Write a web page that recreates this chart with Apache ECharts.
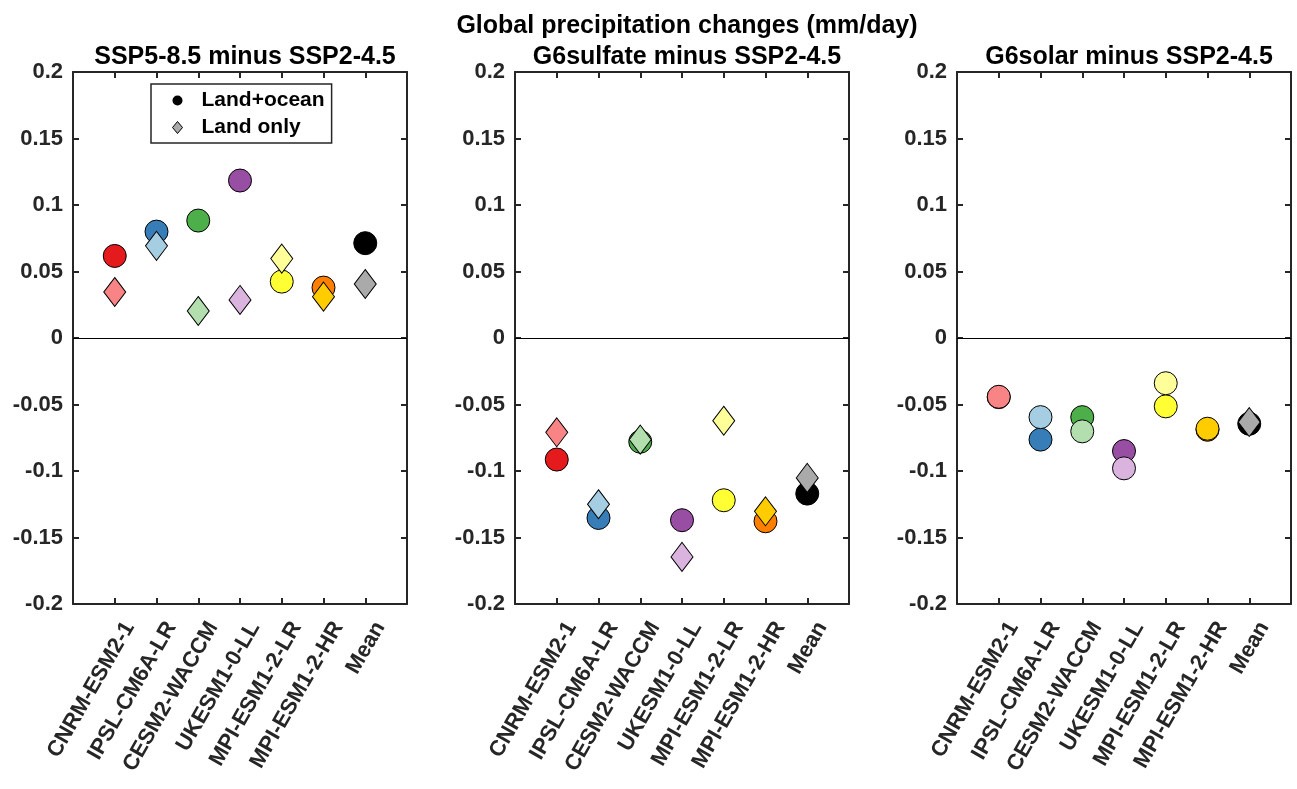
<!DOCTYPE html>
<html>
<head>
<meta charset="utf-8">
<script src="https://cdn.jsdelivr.net/npm/echarts@6/dist/echarts.min.js"></script>
<style>html,body{margin:0;padding:0;background:#fff}#c{width:1297px;height:789px}</style>
</head>
<body>
<div id="c"></div>
<script>
const categories = ['CNRM-ESM2-1','IPSL-CM6A-LR','CESM2-WACCM','UKESM1-0-LL','MPI-ESM1-2-LR','MPI-ESM1-2-HR','Mean'];
const panelTitles = ['SSP5-8.5 minus SSP2-4.5','G6sulfate minus SSP2-4.5','G6solar minus SSP2-4.5'];
const yTicks = [-0.2,-0.15,-0.1,-0.05,0,0.05,0.1,0.15,0.2];
const ssp585LandOcean = [0.0617,0.0800,0.0883,0.1184,0.0424,0.0379,0.0713];
const ssp585Land      = [0.0346,0.0693,0.0203,0.0286,0.0597,0.0311,0.0406];
const g6sulfateLandOcean = [-0.0914,-0.1353,-0.0780,-0.1370,-0.1220,-0.1378,-0.1170];
const g6sulfateLand      = [-0.0709,-0.1250,-0.0764,-0.1646,-0.0622,-0.1303,-0.1052];
const g6solarLandOcean = [-0.0445,-0.0764,-0.0595,-0.0850,-0.0514,-0.0690,-0.0645];
const g6solarLand      = [-0.0442,-0.0595,-0.0702,-0.0980,-0.0340,-0.0682,-0.0632];
const darkColors  = ['#E41A1C','#377EB8','#4DAF4A','#984EA3','#FFFF33','#FF7F00','#000000'];
const lightColors = ['#F88486','#A6CEE3','#B2DFAD','#DAB4DF','#FFFF99','#FFCC00','#AAAAAA'];

const panels = [
  {lo: ssp585LandOcean, land: ssp585Land, landSymbols: ['diamond','diamond','diamond','diamond','diamond','diamond','diamond']},
  {lo: g6sulfateLandOcean, land: g6sulfateLand, landSymbols: ['diamond','diamond','diamond','diamond','diamond','diamond','diamond']},
  {lo: g6solarLandOcean, land: g6solarLand, landSymbols: ['circle','circle','circle','circle','circle','circle','diamond']}
];

const FONT = '"Liberation Sans", Arial, Helvetica, sans-serif';
const AX = '#262626';
const lefts = [73, 515, 957];
const W = 334, TOP = 72, H = 532;

const grids = [], xAxes = [], yAxes = [], series = [], titles = [];
titles.push({text: 'Global precipitation changes (mm/day)', left: lefts[1] + W/2, top: 9, textAlign: 'center',
  textStyle: {fontFamily: FONT, fontWeight: 'bold', fontSize: 25, color: '#000'}});
panels.forEach((p, k) => {
  grids.push({left: lefts[k], top: TOP, width: W, height: H, show: false});
  titles.push({text: panelTitles[k], left: lefts[k] + W/2, top: 40, textAlign: 'center',
    textStyle: {fontFamily: FONT, fontWeight: 'bold', fontSize: 25, color: '#000'}});
  const xb = {type: 'value', gridIndex: k, min: 0, max: categories.length + 1, interval: 1, position: 'bottom',
    axisLine: {show: true, onZero: false, lineStyle: {color: AX, width: 2}},
    axisTick: {show: true, inside: true, length: 6, lineStyle: {color: AX, width: 2}},
    splitLine: {show: false},
    axisLabel: {show: true, rotate: 60, margin: 11, lineHeight: 34, fontFamily: FONT, fontWeight: 'bold', fontSize: 22, color: AX,
      formatter: v => categories[v - 1] ? '\n' + categories[v - 1] : ''}};
  const xt = {type: 'value', gridIndex: k, min: 0, max: categories.length + 1, interval: 1, position: 'top',
    axisLine: {show: true, onZero: false, lineStyle: {color: AX, width: 2}},
    axisTick: {show: true, inside: true, length: 6, lineStyle: {color: AX, width: 2}},
    splitLine: {show: false}, axisLabel: {show: false}};
  const yl = {type: 'value', gridIndex: k, min: yTicks[0], max: yTicks[yTicks.length-1], interval: 0.05, position: 'left',
    axisLine: {show: true, onZero: false, lineStyle: {color: AX, width: 2}},
    axisTick: {show: true, inside: true, length: 6, lineStyle: {color: AX, width: 2}},
    splitLine: {show: false},
    axisLabel: {show: true, margin: 10, fontFamily: FONT, fontWeight: 'bold', fontSize: 22, color: AX,
      formatter: v => String(Math.round(v * 100) / 100)}};
  const yr = {type: 'value', gridIndex: k, min: yTicks[0], max: yTicks[yTicks.length-1], interval: 0.05, position: 'right',
    axisLine: {show: true, onZero: false, lineStyle: {color: AX, width: 2}},
    axisTick: {show: true, inside: true, length: 6, lineStyle: {color: AX, width: 2}},
    splitLine: {show: false}, axisLabel: {show: false}};
  const xbi = xAxes.length; xAxes.push(xb, xt);
  const yli = yAxes.length; yAxes.push(yl, yr);
  series.push({
    name: 'Land+ocean', type: 'scatter', xAxisIndex: xbi, yAxisIndex: yli, symbol: 'circle', symbolSize: 23, z: 3,
    data: p.lo.map((v, i) => ({value: [i + 1, v], itemStyle: {color: darkColors[i]}})),
    itemStyle: {borderColor: '#000', borderWidth: 1, opacity: 1},
    emphasis: {disabled: true},
    markLine: {silent: true, symbol: 'none', label: {show: false}, animation: false,
      lineStyle: {color: '#000', width: 1, type: 'solid'}, data: [{yAxis: 0}]}
  });
  series.push({
    name: 'Land only', type: 'scatter', xAxisIndex: xbi, yAxisIndex: yli, z: 4,
    data: p.land.map((v, i) => ({value: [i + 1, v], symbol: p.landSymbols[i],
      symbolSize: p.landSymbols[i] === 'diamond' ? [22, 29] : 23, itemStyle: {color: lightColors[i]}})),
    itemStyle: {borderColor: '#000', borderWidth: 1, opacity: 1},
    emphasis: {disabled: true}
  });
});

const chart = echarts.init(document.getElementById('c'), null, {renderer: 'canvas'});
chart.setOption({
  animation: false,
  backgroundColor: '#fff',
  title: titles,
  grid: grids,
  xAxis: xAxes,
  yAxis: yAxes,
  legend: {
    show: true, orient: 'vertical', left: 151, top: 84,
    padding: [6, 7, 5, 21], itemGap: 6, itemWidth: 10, itemHeight: 12,
    borderColor: AX, borderWidth: 1.5, backgroundColor: '#fff',
    selectedMode: false,
    textStyle: {fontFamily: FONT, fontWeight: 'bold', fontSize: 21, lineHeight: 21, color: '#000', padding: [0, 0, 0, 14]},
    data: [
      {name: 'Land+ocean', icon: 'circle', itemStyle: {color: '#000', borderColor: '#000', borderWidth: 0}},
      {name: 'Land only', icon: 'diamond', itemStyle: {color: '#AAAAAA', borderColor: '#000', borderWidth: 1}}
    ]
  },
  series: series
});
</script>
</body>
</html>
